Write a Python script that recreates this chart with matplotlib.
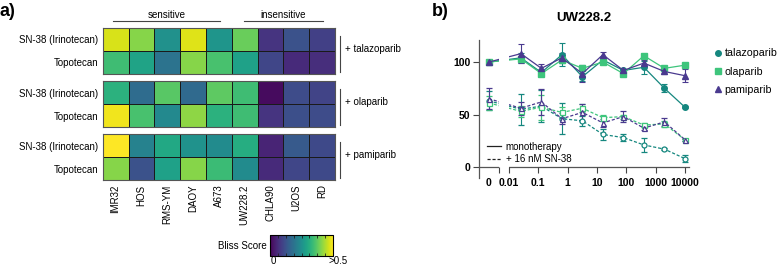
import numpy as np
import matplotlib
matplotlib.use("Agg")
import matplotlib.pyplot as plt
from matplotlib.lines import Line2D

plt.rcParams['font.family'] = ['Liberation Sans', 'DejaVu Sans']
plt.rcParams['font.size'] = 7

# ---------------- data: heatmap ----------------
cell_lines = ["IMR32", "HOS", "RMS-YM", "DAOY", "A673", "UW228.2", "CHLA90", "U2OS", "RD"]
drugs = ["SN-38 (Irinotecan)", "Topotecan"]
parps = ["+ talazoparib", "+ olaparib", "+ pamiparib"]
bliss_talazoparib = [
    [0.47, 0.41, 0.25, 0.475, 0.26, 0.385, 0.075, 0.125, 0.095],
    [0.345, 0.29, 0.19, 0.41, 0.355, 0.285, 0.105, 0.06, 0.065],
]
bliss_olaparib = [
    [0.32, 0.175, 0.37, 0.17, 0.375, 0.345, 0.015, 0.115, 0.10],
    [0.49, 0.355, 0.235, 0.415, 0.32, 0.345, 0.075, 0.12, 0.115],
]
bliss_pamiparib = [
    [0.50, 0.22, 0.30, 0.255, 0.24, 0.31, 0.05, 0.14, 0.11],
    [0.41, 0.125, 0.285, 0.41, 0.34, 0.24, 0.06, 0.105, 0.11],
]
sens_label, insens_label = "sensitive", "insensitive"
sens_cols = (0, 4)
insens_cols = (5, 8)

# ---------------- data: dose response ----------------
conc = [0, 0.0256, 0.128, 0.64, 3.2, 16, 80, 400, 2000, 10000]
tal_mono = [100, 104, 90, 107, 86, 102, 92, 95, 75, 57]
tal_mono_err = [1, 5, 3, 11, 4, 3, 1, 6, 4, 1]
ola_mono = [100, 103, 89, 102, 94, 100, 89, 106, 94, 97]
ola_mono_err = [1, 2, 2, 3, 2, 2, 1, 2, 2, 1]
pam_mono = [100, 108, 94, 104, 89, 107, 92, 99, 91, 87]
pam_mono_err = [1, 9, 4, 5, 8, 3, 1, 3, 2, 6]
tal_combo = [63, 55, 58, 46, 44, 31, 28, 21, 17, 8]
tal_combo_err = [9, 15, 15, 15, 5, 5, 3, 7, 1, 3]
ola_combo = [61, 53, 57, 52, 56, 47, 48, 40, 41, 26]
ola_combo_err = [7, 5, 12, 5, 4, 3, 2, 2, 3, 1]
pam_combo = [65, 56, 62, 46, 52, 42, 48, 37, 43, 26]
pam_combo_err = [10, 6, 12, 5, 8, 4, 5, 2, 4, 1]
xtick_vals = [0.01, 0.1, 1, 10, 100, 1000, 10000]
xtick_labels = ["0.01", "0.1", "1", "10", "100", "1000", "10000"]
ytick_vals = [0, 50, 100]

W, H = 777, 266
fig = plt.figure(figsize=(W / 100, H / 100), dpi=100)

def fx(px):
    return px / W

def fy(py):
    return 1 - py / H

cmap = plt.get_cmap("viridis")
groups = [bliss_talazoparib, bliss_olaparib, bliss_pamiparib]
group_tops = [27.7, 81.0, 134.0]
group_h = 46.3
hm_left, hm_right = 102.7, 335.0
im = None
for gi, (vals, top) in enumerate(zip(groups, group_tops)):
    ax = fig.add_axes([fx(hm_left), fy(top + group_h), fx(hm_right - hm_left), group_h / H])
    arr = np.array(vals)
    im = ax.pcolormesh(arr, cmap=cmap, vmin=0, vmax=0.5, edgecolors="#1a1a1a", linewidth=0.6)
    ax.set_xlim(0, arr.shape[1])
    ax.set_ylim(arr.shape[0], 0)
    ax.set_yticks(np.arange(arr.shape[0]) + 0.5, labels=drugs, fontsize=7)
    if gi == 2:
        ax.set_xticks(np.arange(arr.shape[1]) + 0.5, labels=cell_lines, rotation=90, fontsize=7)
    else:
        ax.set_xticks([])
    ax.tick_params(length=0, pad=3)
    for s in ax.spines.values():
        s.set_color("#555555")
        s.set_linewidth(0.8)
    fig.add_artist(Line2D([fx(340), fx(340)], [fy(top + 8), fy(top + group_h - 2)],
                          color="#444444", lw=0.8))
    fig.text(fx(345), fy(top + 21), parps[gi], fontsize=7, va="center", ha="left")

# sensitive / insensitive brackets
col_w = (hm_right - hm_left) / len(cell_lines)
def col_px(c):
    return hm_left + c * col_w
for (c0, c1), lab, pads in [(sens_cols, sens_label, (10, 12)), (insens_cols, insens_label, (12, 12))]:
    x0 = col_px(c0) + pads[0]
    x1 = col_px(c1 + 1) - pads[1]
    fig.add_artist(Line2D([fx(x0), fx(x1)], [fy(20.5), fy(20.5)], color="#444444", lw=0.8))
    fig.text(fx((x0 + x1) / 2), fy(14.5), lab, fontsize=7, ha="center", va="center")

# colorbar
cax = fig.add_axes([fx(270), fy(256), fx(333 - 270), 21 / H])
cb = fig.colorbar(im, cax=cax, orientation="horizontal")
cb.set_ticks([])
cb.ax.minorticks_on()
cb.ax.xaxis.set_minor_locator(matplotlib.ticker.MultipleLocator(0.0625))
cb.ax.tick_params(which="minor", direction="in", length=2, top=True, bottom=True, color="#222222", width=0.6)
cb.outline.set_linewidth(0.8)
fig.text(fx(273), fy(261.5), "0", fontsize=7, ha="center", va="center")
fig.text(fx(338), fy(261.5), ">0.5", fontsize=7, ha="center", va="center")
fig.text(fx(267), fy(246), "Bliss Score", fontsize=7, ha="right", va="center")

fig.text(fx(0), fy(12), "a)", fontsize=13, fontweight="bold", ha="left", va="center")
fig.text(fx(432), fy(12), "b)", fontsize=13, fontweight="bold", ha="left", va="center")

# ---------------- dose response panel ----------------
ZERO_POS = -2.68
BREAK_L, BREAK_R = -2.34, -2.0
ax = fig.add_axes([fx(479), fy(178), fx(689 - 479), (178 - 40) / H])
xpos = np.array([ZERO_POS if c == 0 else np.log10(c) for c in conc])

col_tal = "#15877f"
col_ola = "#3ec57c"
col_pam = "#4a3a8f"
series = [
    (tal_mono, tal_mono_err, tal_combo, tal_combo_err, col_tal, "o", "talazoparib"),
    (ola_mono, ola_mono_err, ola_combo, ola_combo_err, col_ola, "s", "olaparib"),
    (pam_mono, pam_mono_err, pam_combo, pam_combo_err, col_pam, "^", "pamiparib"),
]
for mono, mono_e, combo, combo_e, col, mk, lab in series:
    ax.errorbar(xpos, mono, yerr=mono_e, color=col, marker=mk, ms=4, lw=0.9,
                elinewidth=0.8, capsize=2, capthick=0.8, zorder=2)
    ax.errorbar(xpos, combo, yerr=combo_e, color=col, marker=mk, ms=3.6, lw=0.9,
                ls=(0, (2.5, 1.5)), mfc="white", mec=col, mew=0.9,
                elinewidth=0.8, capsize=2, capthick=0.8, zorder=2)

ax.axvspan(BREAK_L + 0.005, BREAK_R - 0.005, color="white", lw=0, zorder=3)
ax.set_xlim(-3.02, 4.14)
ax.set_ylim(-10.5, 121)
ax.spines["bottom"].set_position(("data", 0))
ax.spines["top"].set_visible(False)
ax.spines["right"].set_visible(False)
for s in ("left", "bottom"):
    ax.spines[s].set_color("#555555")
    ax.spines[s].set_linewidth(0.9)
    ax.spines[s].set_zorder(2.5)
ax.xaxis.set_zorder(4)
ax.set_xticks([BREAK_L] + list(np.log10(xtick_vals)), labels=[""] + xtick_labels)
ax.set_xticks([ZERO_POS], labels=["0"], minor=True)
ax.tick_params(axis="x", which="minor", length=0, pad=8.0)
ax.tick_params(axis="x", which="major", length=4, width=0.8, color="#444444", pad=4)
ax.set_yticks(ytick_vals)
ax.tick_params(axis="y", length=4, width=0.8, color="#444444", pad=2)
for t in ax.get_xticklabels(which="both") + ax.get_yticklabels():
    t.set_fontweight("bold")
    t.set_fontsize(7.5)
ax.set_title("UW228.2", fontsize=9.5, fontweight="bold", pad=0, y=(fy(18) - fy(178)) / ((178 - 40) / H), va="center")
ax.patch.set_alpha(0)

# legends
h1 = [Line2D([], [], color=c, marker=m, ls="none", ms=4) for c, m in [(col_tal, "o"), (col_ola, "s"), (col_pam, "^")]]
fig.legend(h1, ["talazoparib", "olaparib", "pamiparib"], loc="upper left",
           bbox_to_anchor=(fx(709), fy(43)), frameon=False, fontsize=7.7,
           handlelength=0.7, handletextpad=0.25, labelspacing=0.78, borderpad=0)
h2 = [Line2D([], [], color="#222222", lw=0.9), Line2D([], [], color="#222222", lw=0.9, ls=(0, (2.5, 1.5)))]
fig.legend(h2, ["monotherapy", "+ 16 nM SN-38"], loc="upper left",
           bbox_to_anchor=(fx(482), fy(137)), frameon=False, fontsize=7,
           handlelength=1.5, handletextpad=0.45, labelspacing=0.25, borderpad=0)

fig.savefig("out.png", dpi=100)
